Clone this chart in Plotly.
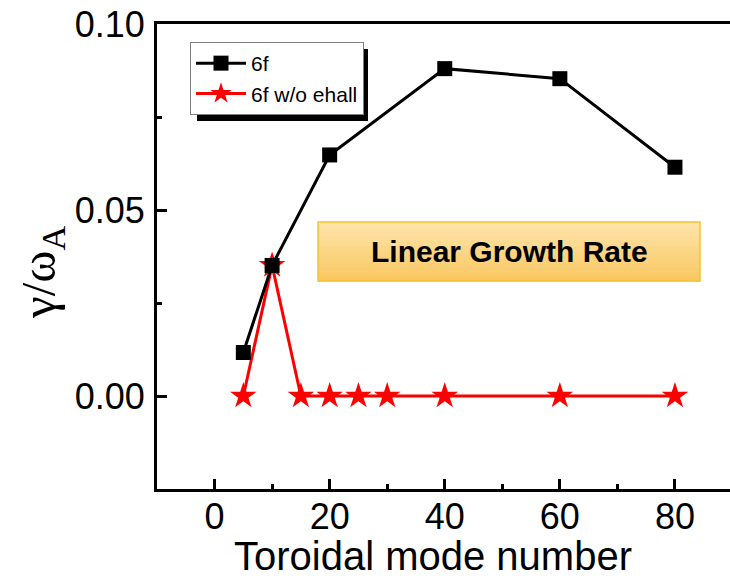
import plotly.graph_objects as go

# ---- data ----
mode_6f = [5, 10, 20, 40, 60, 80]
rate_6f = [0.0117, 0.0351, 0.0648, 0.0880, 0.0853, 0.0615]

mode_noeh = [5, 10, 15, 20, 25, 30, 40, 60, 80]
rate_noeh = [0.0, 0.0351, 0.0, 0.0, 0.0, 0.0, 0.0, 0.0, 0.0]

x_ticks = [0, 20, 40, 60, 80]
y_ticks = [0.0, 0.05, 0.10]
y_tick_text = ["0.00", "0.05", "0.10"]

x_title = "Toroidal mode number"
y_title = "γ/ω<sub>A</sub>"
box_text = "Linear Growth Rate"

fig = go.Figure()

fig.add_trace(go.Scatter(
    x=mode_noeh, y=rate_noeh, name="6f w/o ehall", mode="lines+markers",
    line=dict(color="#FF0000", width=3),
    marker=dict(symbol="star", size=20, color="#FF0000", line=dict(width=0)),
    legendrank=2,
))
fig.add_trace(go.Scatter(
    x=mode_6f, y=rate_6f, name="6f", mode="lines+markers",
    line=dict(color="#000000", width=3),
    marker=dict(symbol="square", size=15, color="#000000", line=dict(width=0)),
    legendrank=1,
))

W, H = 730, 583
L, R, T, B = 157, 0, 24, 94
pw, ph = W - L - R, H - T - B

def px(x):
    return (x - L) / pw

def py(y):
    return (H - B - y) / ph

shapes = []
# legend shadow
shapes.append(dict(type="rect", xref="paper", yref="paper",
                   x0=px(197), x1=px(368), y0=py(121), y1=py(49),
                   fillcolor="#000000", line=dict(width=0), layer="above"))
# gradient box
x0b, x1b, y0b, y1b = 318, 700, 222, 281
n = 24
top = (254, 228, 170)
bot = (249, 199, 96)
for i in range(n):
    t = i / (n - 1)
    c = tuple(round(top[k] + (bot[k] - top[k]) * t) for k in range(3))
    ya = y0b + (y1b - y0b) * i / n
    yb = y0b + (y1b - y0b) * (i + 1) / n
    shapes.append(dict(type="rect", xref="paper", yref="paper",
                       x0=px(x0b), x1=px(x1b), y0=py(yb + 0.5), y1=py(ya),
                       fillcolor="rgb(%d,%d,%d)" % c, line=dict(width=0),
                       layer="above"))
shapes.append(dict(type="rect", xref="paper", yref="paper",
                   x0=px(x0b), x1=px(x1b), y0=py(y1b), y1=py(y0b),
                   fillcolor="rgba(0,0,0,0)", line=dict(color="#F6C230", width=1.5),
                   layer="above"))

fig.update_layout(
    width=W, height=H,
    margin=dict(l=L, r=R, t=T, b=B, pad=0),
    paper_bgcolor="white", plot_bgcolor="white",
    font=dict(family="Arial, Liberation Sans, sans-serif", color="black"),
    showlegend=True,
    legend=dict(
        x=px(190), y=py(42), xanchor="left", yanchor="top",
        bgcolor="white", bordercolor="#7f7f7f", borderwidth=1,
        font=dict(size=21, family="Arial, Liberation Sans, sans-serif"),
        itemwidth=50, tracegroupgap=0,
    ),
    shapes=shapes,
    annotations=[
        dict(x=px((x0b + x1b) / 2), y=py((y0b + y1b) / 2), xref="paper", yref="paper",
             text="<b>%s</b>" % box_text, showarrow=False,
             font=dict(size=30, family="Arial, Liberation Sans, sans-serif", color="black"),
             xanchor="center", yanchor="middle"),
        dict(x=px(433), y=py(556), xref="paper", yref="paper",
             text=x_title, showarrow=False,
             font=dict(size=40, family="Arial, Liberation Sans, sans-serif", color="black"),
             xanchor="center", yanchor="middle"),
        dict(x=px(41), y=py(272), xref="paper", yref="paper",
             text=y_title, showarrow=False, textangle=-90,
             font=dict(size=49, family="Liberation Serif, Times New Roman, serif", color="black"),
             xanchor="center", yanchor="middle"),
    ],
)

fig.update_xaxes(
    range=[-10, (730 - 215) / 5.75], tickvals=x_ticks,
    showgrid=False, zeroline=False,
    showline=True, linecolor="black", linewidth=3, mirror=True,
    ticks="inside", ticklen=10, tickwidth=3, tickcolor="black",
    minor=dict(ticks="inside", ticklen=5, tickwidth=3, tickcolor="black", dtick=10, tick0=0),
    tickfont=dict(size=36), ticklabelstandoff=-6,
)
fig.update_yaxes(
    range=[-0.025, 0.10], tickvals=y_ticks, ticktext=y_tick_text,
    showgrid=False, zeroline=False,
    showline=True, linecolor="black", linewidth=3, mirror=False,
    ticks="inside", ticklen=10, tickwidth=3, tickcolor="black",
    minor=dict(ticks="inside", ticklen=5, tickwidth=3, tickcolor="black", dtick=0.025, tick0=0),
    tickfont=dict(size=36), ticklabelstandoff=2,
)

fig.write_html("out.html")
